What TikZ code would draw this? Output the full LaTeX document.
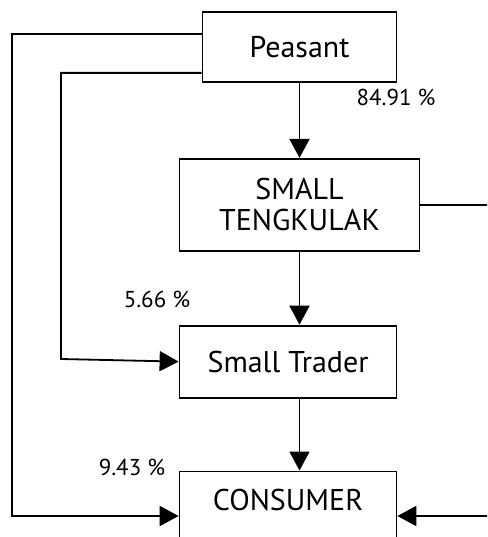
\documentclass[tikz,border=0pt]{standalone}
\usepackage{fontspec}
\setmainfont{PT Sans}
\usetikzlibrary{arrows.meta}
\usetikzlibrary{positioning}
\usetikzlibrary{calc}

\begin{document}
\begin{tikzpicture}[x=1pt,y=-1pt,line width=1.8pt,>={Triangle[width=20pt,length=19pt]}]
\tikzstyle{box}=[draw,inner sep=0pt,font=\fontsize{30}{31}\selectfont]
\tikzstyle{pct}=[inner sep=0pt,font=\fontsize{23}{25}\selectfont]
\clip (0,0) rectangle (487,537);
\useasboundingbox (0,0) rectangle (487,537);

\node[box,minimum width=194pt,minimum height=70pt] (peasant) at (299.5,47) {Peasant};
\node[box,align=center,minimum width=240pt,minimum height=92pt,below=75pt of peasant] (tengkulak) {SMALL\\TENGKULAK};
\node[box,minimum width=217pt,minimum height=72pt,below=73pt of tengkulak.south west,anchor=north west] (trader) {Small Trader};
\node[box,minimum width=217pt,text height=39pt,text depth=60pt,below=72pt of trader.south west,anchor=north west] (consumer) {CONSUMER};

\draw[->] (peasant) -- (tengkulak);
\draw[->] (tengkulak) -- (tengkulak.south |- trader.north);
\draw[->] (tengkulak.south |- trader.south) -- (tengkulak.south |- consumer.north);

\coordinate (outer) at (12,516);
\coordinate (inner) at (61,359);
\draw[->] ($(peasant.north west)+(0,23)$) -| (outer) -- (outer -| consumer.west);
\draw[->] ($(peasant.south west)+(0,-10)$) -| (inner) -- (trader.west);
\draw[->] (tengkulak.east) -- ++(70,0) |- (consumer.east |- outer);

\node[pct] (p1) at (396,97) {84.91 \%};
\node[pct] (p2) at (157,299) {5.66 \%};
\node[pct] (p3) at (132,467) {9.43 \%};
\end{tikzpicture}
\end{document}
